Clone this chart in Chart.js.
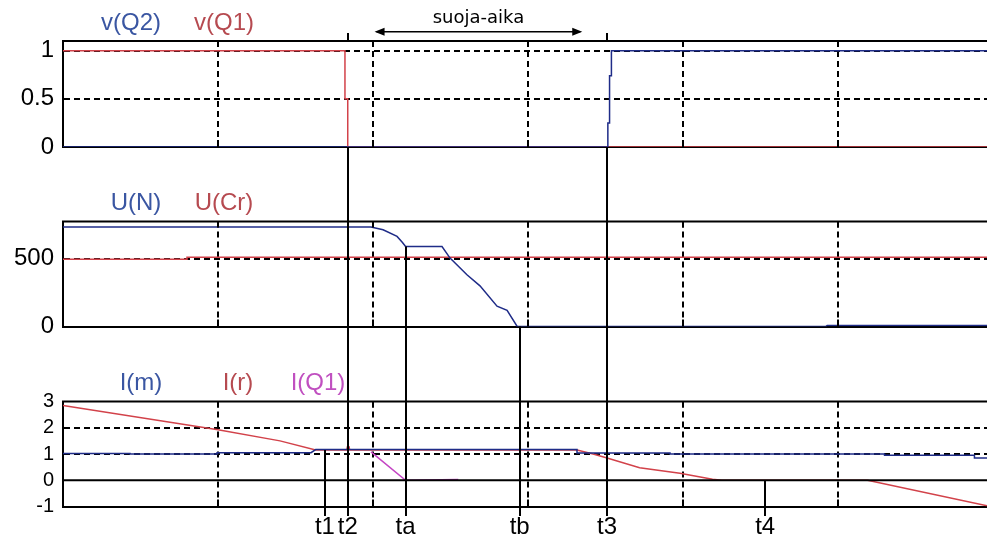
<!DOCTYPE html>
<html>
<head>
<meta charset="utf-8">
<script src="https://cdn.jsdelivr.net/npm/chart.js@4/dist/chart.umd.min.js"></script>
<style>
  html, body { margin: 0; padding: 0; background: #fff; overflow: hidden; }
  canvas { position: absolute; left: 0; }
</style>
</head>
<body>
<canvas id="switches" width="987" height="185" style="top:0px;width:987px;height:185px"></canvas>
<canvas id="voltages" width="987" height="180" style="top:185px;width:987px;height:180px"></canvas>
<canvas id="currents" width="987" height="170" style="top:365px;width:987px;height:170px"></canvas>
<script>
// Time axis (arbitrary units, one grid division = 1)
const X_MAX = 5.961;
const xGridTicks = [0, 1, 2, 3, 4, 5];

// Switch control signals
const vQ2_t = [0, 3.515, 3.515, 3.526, 3.526, 3.538, 3.538, 5.961];
const vQ2   = [0, 0, 0.25, 0.25, 0.74, 0.74, 1, 1];
const vQ1_t = [0, 1.819, 1.819, 1.837, 1.837, 5.961];
const vQ1   = [1, 1, 0.5, 0.5, 0, 0];
const yTicks1 = [0, 0.5, 1];

// Node voltage and resonant capacitor voltage
const uN_t = [0, 1.987, 2.065, 2.155, 2.19, 2.21, 2.445, 2.497, 2.606, 2.69, 2.80, 2.865, 2.93, 4.92, 4.93, 5.961];
const uN   = [735, 735, 714, 665, 620, 590, 590, 505, 382, 300, 150, 120, 0, 0, 8, 8];
const uCr_t = [0, 0.80, 0.80, 5.961];
const uCr   = [497, 497, 512, 512];
const yTicks2 = [0, 500];

// Currents
const iM_t = [0, 0.432, 0.432, 0.994, 0.994, 1.60, 1.63, 3.316, 3.316, 3.916, 3.916, 5.30, 5.30, 5.88, 5.88, 5.961];
const iM   = [1.02, 1.02, 1.0, 1.0, 1.05, 1.05, 1.17, 1.17, 1.04, 1.04, 1.0, 1.0, 0.95, 0.95, 0.85, 0.85];
const iR_t = [0, 1.0, 1.4, 1.63, 1.83, 1.835, 1.845, 1.85, 3.316, 3.42, 3.51, 3.72, 3.98, 4.19, 4.25, 5.19, 5.961];
const iR   = [2.85, 1.92, 1.5, 1.15, 1.15, 1.28, 1.28, 1.15, 1.15, 1.0, 0.85, 0.48, 0.27, 0.04, 0, 0, -0.97];
const iQ1_t = [1.987, 2.21, 2.55];
const iQ1   = [1.08, 0, 0.03];
const yTicks3 = [-1, 0, 1, 2, 3];

// Event instants marked below the plots
const markerNames = ['t1', 't2', 'ta', 'tb', 't3', 't4'];
const markerTimes = [1.69, 1.837, 2.21, 2.946, 3.51, 4.53];

// Dead-time interval annotation
const guardSpan = [2.01, 3.35];
const guardLabel = 'suoja-aika';

const BLUE = '#1f2c88', RED = '#d2424a', MAGENTA = '#c445c4';
const FONT = 'Liberation Sans, Arial, sans-serif';

function pts(t, v) { return t.map((x, i) => ({ x, y: v[i] })); }
function markerTime(name) { return markerTimes[markerNames.indexOf(name)]; }

const panelDecor = {
  id: 'panelDecor',
  afterDatasetsDraw(chart, args, opts) {
    const ctx = chart.ctx;
    const xs = chart.scales.x, ys = chart.scales.y;
    const { left, right, top, bottom } = chart.chartArea;
    const seg = (x1, y1, x2, y2) => { ctx.beginPath(); ctx.moveTo(x1, y1); ctx.lineTo(x2, y2); ctx.stroke(); };
    ctx.save();
    ctx.strokeStyle = '#000';
    ctx.setLineDash([]);

    // top edge of the frame and extra solid reference lines
    ctx.lineWidth = 2;
    seg(left - 1, top, right, top);
    (opts.solidY || []).forEach(v => { const y = ys.getPixelForValue(v); seg(left, y, right, y); });

    // inward tick marks at the time grid
    xs.ticks.forEach(t => {
      if (t.value <= xs.min) return;
      const x = Math.round(xs.getPixelForValue(t.value));
      seg(x, top, x, top + 6);
      seg(x, bottom - 7, x, bottom);
    });

    // vertical event markers
    const resolve = (p) => {
      if (typeof p === 'number') return ys.getPixelForValue(p);
      if (p === 'top') return top;
      if (p === 'bottom') return bottom;
      if (p === 'stub') return top - 8;
      if (p === 'canvasTop') return 0;
      if (p === 'canvasBottom') return chart.height;
      if (p === 'end') return chart.height - 19;
      return 0;
    };
    (opts.markers || []).forEach(m => {
      const x = Math.round(xs.getPixelForValue(markerTime(m.t)));
      seg(x, resolve(m.from), x, resolve(m.to));
    });

    // marker names
    if (opts.markerLabels) {
      ctx.fillStyle = '#000';
      ctx.font = '24px ' + FONT;
      ctx.textAlign = 'center';
      ctx.textBaseline = 'alphabetic';
      markerNames.forEach((n, i) => {
        ctx.fillText(n, xs.getPixelForValue(markerTimes[i]), chart.height - 1);
      });
    }

    // series names above the frame
    ctx.font = '24px ' + FONT;
    ctx.textAlign = 'center';
    ctx.textBaseline = 'alphabetic';
    chart.data.datasets.forEach((ds, i) => {
      const lx = (opts.labelX || [])[i];
      if (lx === undefined) return;
      ctx.fillStyle = ds.textColor || ds.borderColor;
      ctx.fillText(ds.label, lx, top - 11.5);
    });

    // dead-time arrow
    if (opts.guard) {
      const x1 = xs.getPixelForValue(guardSpan[0]);
      const x2 = xs.getPixelForValue(guardSpan[1]);
      const y = top - 9.3;
      ctx.lineWidth = 1.5;
      seg(x1 + 2, y, x2 - 2, y);
      ctx.fillStyle = '#000';
      ctx.beginPath(); ctx.moveTo(x1, y); ctx.lineTo(x1 + 10, y - 4); ctx.lineTo(x1 + 10, y + 4); ctx.closePath(); ctx.fill();
      ctx.beginPath(); ctx.moveTo(x2, y); ctx.lineTo(x2 - 10, y - 4); ctx.lineTo(x2 - 10, y + 4); ctx.closePath(); ctx.fill();
      ctx.font = '18px DejaVu Sans, sans-serif';
      ctx.textAlign = 'center';
      ctx.fillText(guardLabel, (x1 + x2) / 2, top - 18);
    }
    ctx.restore();
  }
};

function makeChart(id, cfg) {
  const { datasets, yMin, yMax, yTicks, dashedY, fontSize, padTop, padBottom, decor } = cfg;
  return new Chart(document.getElementById(id), {
    type: 'line',
    data: { datasets },
    options: {
      responsive: false,
      animation: false,
      events: [],
      layout: { padding: { top: padTop, bottom: padBottom, left: 0, right: 0 } },
      elements: { point: { radius: 0 }, line: { borderWidth: 1.5, tension: 0 } },
      plugins: { legend: { display: false }, tooltip: { enabled: false }, panelDecor: decor },
      scales: {
        x: {
          type: 'linear', min: 0, max: X_MAX,
          afterBuildTicks: s => { s.ticks = xGridTicks.map(v => ({ value: v })); },
          afterFit: s => { s.height = 0; },
          ticks: { display: false },
          grid: {
            drawTicks: false, lineWidth: 2,
            color: c => (c.tick && c.tick.value > 0) ? '#000' : 'rgba(0,0,0,0)'
          },
          border: { display: true, color: '#000', width: 2, dash: [6, 4] }
        },
        y: {
          type: 'linear', min: yMin, max: yMax,
          afterBuildTicks: s => { s.ticks = yTicks.map(v => ({ value: v })); },
          afterFit: s => { s.width = 63; },
          ticks: {
            color: '#000', padding: 9, autoSkip: false,
            font: { family: FONT, size: fontSize },
            callback: v => String(v)
          },
          grid: {
            drawTicks: false, lineWidth: 2,
            color: c => (c.tick && dashedY.includes(c.tick.value)) ? '#000' : 'rgba(0,0,0,0)'
          },
          border: { display: true, color: '#000', width: 2, dash: [6, 4] }
        }
      }
    },
    plugins: [panelDecor]
  });
}

makeChart('switches', {
  datasets: [
    { label: 'v(Q2)', data: pts(vQ2_t, vQ2), borderColor: BLUE, textColor: '#3a56a2' },
    { label: 'v(Q1)', data: pts(vQ1_t, vQ1), borderColor: RED, textColor: '#b64a50' }
  ],
  yMin: 0, yMax: 1.1, yTicks: yTicks1, dashedY: [0.5, 1], fontSize: 24,
  padTop: 41, padBottom: 38,
  decor: {
    labelX: [131, 224],
    guard: true,
    markers: [
      { t: 't2', from: 'stub', to: 'top' }, { t: 't2', from: 'bottom', to: 'canvasBottom' },
      { t: 't3', from: 'stub', to: 'top' }, { t: 't3', from: 'bottom', to: 'canvasBottom' }
    ]
  }
});

makeChart('voltages', {
  datasets: [
    { label: 'U(N)', data: pts(uN_t, uN), borderColor: BLUE, textColor: '#3a56a2' },
    { label: 'U(Cr)', data: pts(uCr_t, uCr), borderColor: RED, textColor: '#b64a50' }
  ],
  yMin: 0, yMax: 775, yTicks: yTicks2, dashedY: [500], fontSize: 24,
  padTop: 36.5, padBottom: 38.5,
  decor: {
    labelX: [136, 224],
    markers: [
      { t: 't2', from: 'canvasTop', to: 'canvasBottom' },
      { t: 't3', from: 'canvasTop', to: 'canvasBottom' },
      { t: 'ta', from: 590, to: 'canvasBottom' },
      { t: 'tb', from: 'bottom', to: 'canvasBottom' }
    ]
  }
});

makeChart('currents', {
  datasets: [
    { label: 'I(m)', data: pts(iM_t, iM), borderColor: BLUE, textColor: '#3a56a2' },
    { label: 'I(r)', data: pts(iR_t, iR), borderColor: RED, textColor: '#b64a50' },
    { label: 'I(Q1)', data: pts(iQ1_t, iQ1), borderColor: MAGENTA, textColor: '#c050c0' }
  ],
  yMin: -1, yMax: 3, yTicks: yTicks3, dashedY: [1, 2], fontSize: 20,
  padTop: 36.5, padBottom: 28.5,
  decor: {
    labelX: [141, 238, 318],
    solidY: [0],
    markerLabels: true,
    markers: [
      { t: 't1', from: 1.15, to: 'end' },
      { t: 't2', from: 'canvasTop', to: 'end' },
      { t: 'ta', from: 'canvasTop', to: 'end' },
      { t: 'tb', from: 'canvasTop', to: 'end' },
      { t: 't3', from: 'canvasTop', to: 'end' },
      { t: 't4', from: 0, to: 'end' }
    ]
  }
});
</script>
</body>
</html>
